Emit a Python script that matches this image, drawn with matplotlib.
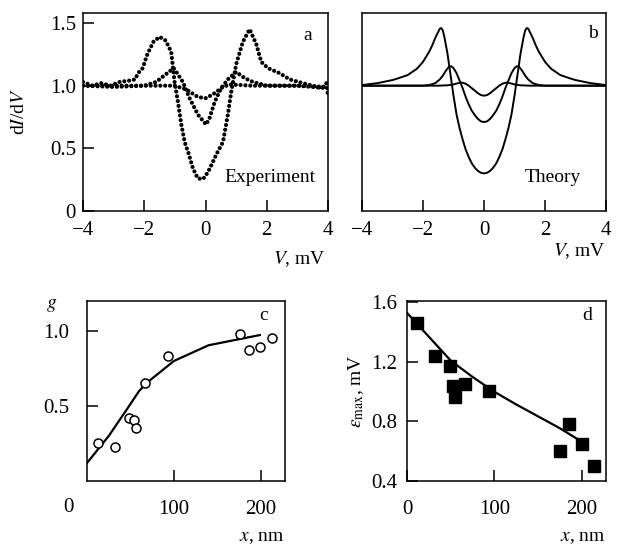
import matplotlib.pyplot as plt

plt.rcParams['font.family'] = 'Liberation Serif'
plt.rcParams['mathtext.fontset'] = 'stix'
plt.rcParams['font.size'] = 14
plt.rcParams['xtick.labelsize'] = 15
plt.rcParams['ytick.labelsize'] = 15
plt.rcParams['axes.linewidth'] = 1.1

# -------- DATA --------
# (a) experiment, three dI/dV curves
exp_outer_v = [-4.0, -3.7, -3.4, -3.1, -2.8, -2.5, -2.3, -2.2, -2.05, -1.9, -1.7, -1.5, -1.3,
               -1.12, -1.01, -0.9, -0.79, -0.68, -0.54, -0.41, -0.25, -0.08, 0.08, 0.2, 0.35,
               0.57, 0.73, 0.84, 1.0, 1.22, 1.44, 1.66, 1.82, 2.04, 2.42, 2.75, 3.18, 3.5,
               3.8, 3.95, 4.0]
exp_outer_g = [1.03, 1.0, 1.02, 1.0, 1.03, 1.04, 1.05, 1.1, 1.14, 1.25, 1.35, 1.39, 1.36,
               1.27, 1.03, 0.87, 0.69, 0.55, 0.45, 0.34, 0.26, 0.255, 0.31, 0.37, 0.45,
               0.55, 0.77, 0.95, 1.17, 1.35, 1.45, 1.33, 1.19, 1.14, 1.10, 1.05, 1.02, 1.0,
               0.98, 1.02, 0.92]
exp_mid_v = [-4.0, -3.0, -2.0, -1.61, -1.3, -1.04, -0.9, -0.74, -0.52, -0.25, 0.02, 0.13,
             0.3, 0.51, 0.73, 1.0, 1.28, 1.55, 2.0, 3.0, 4.0]
exp_mid_g = [1.0, 0.99, 1.0, 1.03, 1.09, 1.14, 1.09, 1.03, 0.9, 0.77, 0.69, 0.74,
             0.87, 0.98, 1.05, 1.11, 1.06, 1.03, 1.0, 1.0, 0.99]
exp_inner_v = [-4.0, -2.0, -1.0, -0.63, -0.25, 0.0, 0.24, 0.57, 0.8, 1.5, 3.0, 4.0]
exp_inner_g = [1.0, 1.0, 1.0, 0.97, 0.91, 0.9, 0.93, 0.99, 1.01, 1.0, 1.0, 0.98]

# (b) theory curves
th_outer_v = [-4.0, -3.5, -3.0, -2.8, -2.5, -2.2, -2.0, -1.9, -1.8, -1.7, -1.6, -1.5, -1.45,
              -1.4, -1.35, -1.3, -1.2, -1.1, -1.0, -0.9, -0.8, -0.7, -0.6, -0.5, -0.4, -0.3,
              -0.2, -0.1, 0.0, 0.1, 0.2, 0.3, 0.4, 0.5, 0.6, 0.7, 0.8, 0.9, 1.0, 1.1, 1.2,
              1.3, 1.35, 1.4, 1.45, 1.5, 1.6, 1.7, 1.8, 1.9, 2.0, 2.2, 2.5, 2.8, 3.0, 3.5, 4.0]
th_outer_g = [1.005, 1.02, 1.045, 1.06, 1.085, 1.135, 1.19, 1.23, 1.27, 1.32, 1.38, 1.43, 1.455,
              1.46, 1.44, 1.39, 1.26, 1.09, 0.92, 0.77, 0.66, 0.57, 0.49, 0.43, 0.38, 0.345,
              0.32, 0.305, 0.30, 0.305, 0.32, 0.345, 0.38, 0.43, 0.49, 0.57, 0.66, 0.77, 0.92,
              1.09, 1.26, 1.39, 1.44, 1.46, 1.455, 1.43, 1.38, 1.32, 1.27, 1.23, 1.19, 1.135,
              1.085, 1.06, 1.045, 1.02, 1.005]
th_mid_v = [-4.0, -2.0, -1.8, -1.6, -1.45, -1.35, -1.25, -1.15, -1.07, -1.0, -0.9, -0.8,
            -0.7, -0.6, -0.5, -0.4, -0.3, -0.2, -0.1, 0.0, 0.1, 0.2, 0.3, 0.4, 0.5, 0.6,
            0.7, 0.8, 0.9, 1.0, 1.07, 1.15, 1.25, 1.35, 1.45, 1.6, 1.8, 2.0, 4.0]
th_mid_g = [1.0, 1.0, 1.005, 1.02, 1.05, 1.08, 1.12, 1.15, 1.155, 1.14, 1.10, 1.04,
            0.98, 0.91, 0.85, 0.80, 0.765, 0.735, 0.715, 0.71, 0.715, 0.735, 0.765, 0.80,
            0.85, 0.91, 0.98, 1.04, 1.10, 1.14, 1.155, 1.15, 1.12, 1.08, 1.05, 1.02, 1.005,
            1.0, 1.0]
th_inner_v = [-4.0, -1.5, -1.2, -1.0, -0.85, -0.72, -0.6, -0.5, -0.4, -0.3, -0.2, -0.1,
              0.0, 0.1, 0.2, 0.3, 0.4, 0.5, 0.6, 0.72, 0.85, 1.0, 1.2, 1.5, 4.0]
th_inner_g = [1.0, 1.0, 1.003, 1.01, 1.02, 1.025, 1.015, 1.0, 0.98, 0.96, 0.94, 0.925,
              0.92, 0.925, 0.94, 0.96, 0.98, 1.0, 1.015, 1.025, 1.02, 1.01, 1.003, 1.0, 1.0]

# (c) g vs x
c_x = [12.3, 32.6, 47.9, 54.4, 56.0, 67.0, 93.5, 176.6, 186.2, 199.6, 213.4]
c_g = [0.256, 0.227, 0.422, 0.405, 0.353, 0.653, 0.836, 0.982, 0.871, 0.896, 0.951]
c_fit_x = [0, 25, 45, 60, 70, 100, 140, 199]
c_fit_g = [0.12, 0.30, 0.47, 0.60, 0.66, 0.80, 0.905, 0.973]

# (d) eps_max vs x
d_x = [11.5, 31.7, 49.7, 52.7, 54.6, 66.9, 93.6, 175.0, 185.3, 200.7, 214.0]
d_eps = [1.463, 1.238, 1.171, 1.036, 0.962, 1.054, 1.002, 0.602, 0.782, 0.65, 0.503]
d_fit_x = [0, 25, 50, 75, 100, 125, 150, 175, 200]
d_fit_eps = [1.53, 1.37, 1.21, 1.10, 1.0, 0.915, 0.835, 0.755, 0.665]
# ----------------------

W, H = 619, 547


def box(l, t, r, b):
    return [l / W, 1 - b / H, (r - l) / W, (b - t) / H]


def ftext(x, y, s, **kw):
    fig.text(x / W, 1 - y / H, s, **kw)


fig = plt.figure(figsize=(W / 100, H / 100), dpi=100)

ax_a = fig.add_axes(box(83, 13, 328, 211))
ax_b = fig.add_axes(box(362, 13, 606, 211))
ax_c = fig.add_axes(box(87, 301, 285, 481))
ax_d = fig.add_axes(box(407, 301, 606, 481))

dot = dict(color='black', lw=3.0, linestyle=(0, (0.01, 1.15)), dash_capstyle='round')
ax_a.plot(exp_outer_v, exp_outer_g, **dot)
ax_a.plot(exp_mid_v, exp_mid_g, **dot)
ax_a.plot(exp_inner_v, exp_inner_g, **dot)

for v, g in [(th_outer_v, th_outer_g), (th_mid_v, th_mid_g), (th_inner_v, th_inner_g)]:
    ax_b.plot(v, g, color='black', lw=1.4)

for ax in (ax_a, ax_b):
    ax.set_xlim(-4, 4)
    ax.set_ylim(0, 1.58)
    ax.set_xticks([-4, -2, 0, 2, 4])
    ax.tick_params(axis='x', direction='in', length=8, width=1.1, pad=7)
    ax.tick_params(axis='y', direction='in', length=8, width=1.1, pad=5)

ax_a.set_yticks([0, 0.5, 1.0, 1.5])
ax_a.set_yticklabels(['0', '0.5', '1.0', '1.5'])
ax_b.set_yticks([])

ax_c.plot(c_fit_x, c_fit_g, color='black', lw=1.6)
ax_c.plot(c_x, c_g, 'o', mfc='white', mec='black', mew=1.1, ms=6.5)
ax_c.set_xlim(0, 228)
ax_c.set_ylim(0, 1.2)
ax_c.set_xticks([100, 200])
ax_c.set_yticks([0.5, 1.0])
ax_c.set_yticklabels(['0.5', '1.0'])
ax_c.tick_params(axis='x', direction='in', length=8, width=1.1, pad=14)
ax_c.tick_params(axis='y', direction='in', length=8, width=1.1, pad=13)

ax_d.plot(d_fit_x, d_fit_eps, color='black', lw=1.6)
ax_d.plot(d_x, d_eps, 's', color='black', ms=8)
ax_d.set_xlim(0, 228)
ax_d.set_ylim(0.4, 1.61)
ax_d.set_xticks([0, 100, 200])
ax_d.set_yticks([0.4, 0.8, 1.2, 1.6])
ax_d.tick_params(axis='x', direction='in', length=8, width=1.1, pad=14)
ax_d.tick_params(axis='y', direction='in', length=8, width=1.1, pad=7)

# labels and annotations
ftext(20, 112, 'd$I$/d$V$', rotation=90, ha='center', va='center')
ftext(326, 259, '$V$, mV', ha='right', va='center')
ftext(606, 251, '$V$, mV', ha='right', va='center')
ftext(285, 537, '$x$, nm', ha='right', va='center')
ftext(606, 537, '$x$, nm', ha='right', va='center')
ftext(68, 507, '0', ha='center', va='center', fontsize=15)
ftext(52, 306, '$g$', ha='center', va='center')
ftext(356, 391, r'$\varepsilon_{\rm max}$, mV', rotation=90, ha='center', va='center')

ftext(308, 35, 'a', ha='center', va='center')
ftext(593, 33, 'b', ha='center', va='center')
ftext(264, 315, 'c', ha='center', va='center')
ftext(587, 315, 'd', ha='center', va='center')
ftext(316, 178, 'Experiment', ha='right', va='center')
ftext(581, 177, 'Theory', ha='right', va='center')

fig.savefig('out.png', dpi=100)
